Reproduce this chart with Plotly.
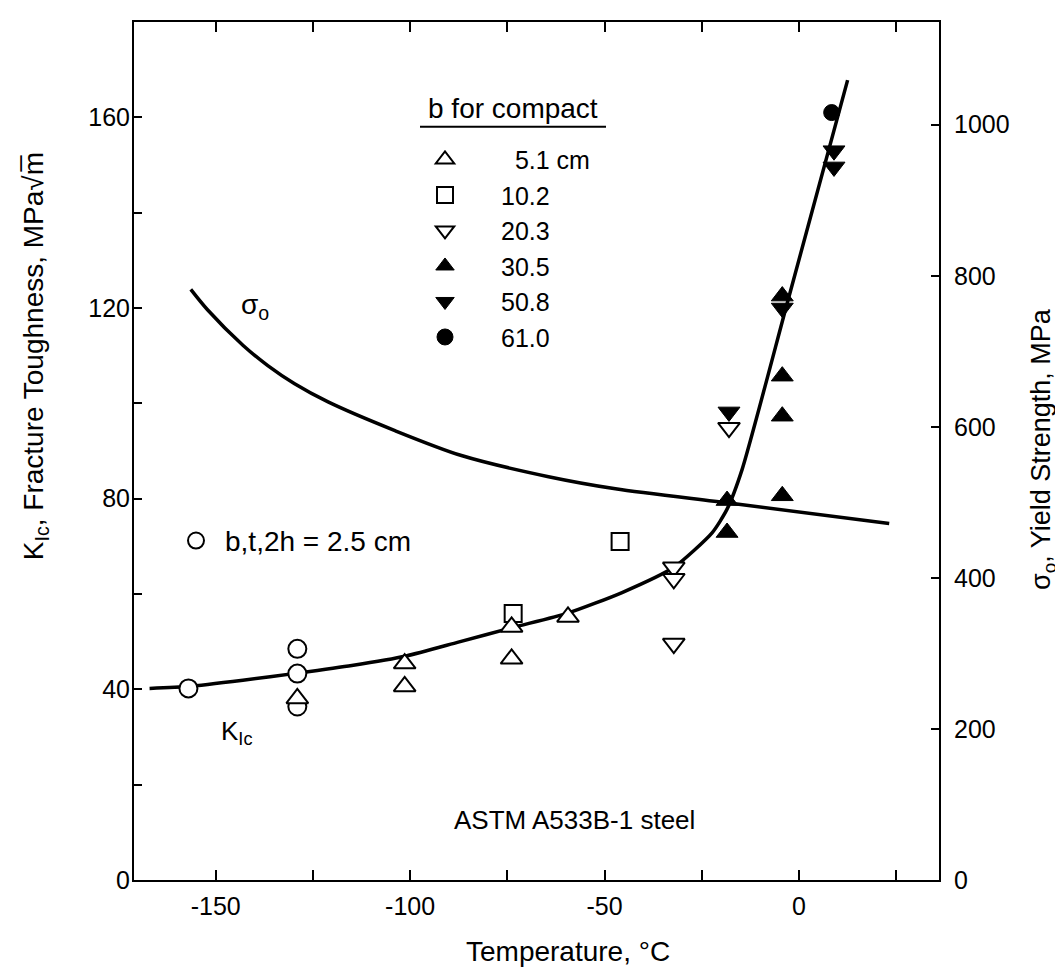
import plotly.graph_objects as go

# ---------------- data ----------------
# K_Ic fitted curve (left axis, MPa*sqrt(m))
kic_curve_T = [-167, -157, -143, -129, -115, -101, -87.6, -73.5, -59.4, -45.5, -32.2, -22.3, -18.5, -14.6, -3.0, 12.5]
kic_curve_K = [40.2, 40.6, 41.9, 43.4, 45.0, 47.0, 49.9, 53.0, 56.0, 60.3, 65.6, 72.9, 77.8, 86.2, 121.1, 167.8]

# Yield strength curve (right axis, MPa)
sy_curve_T = [-156.4, -152.1, -143.0, -136.6, -129.7, -121.1, -103.9, -86.8, -64.4, -47.2, -18.0, 23.2]
sy_curve_S = [782, 755, 708, 681, 657, 633, 595, 562, 534, 518, 499, 472]

# b,t,2h = 2.5 cm specimens (open circles)
c25_T = [-157, -129, -129, -129]
c25_K = [40.2, 48.5, 43.3, 36.4]

# compact specimens, by b
b51_T = [-129, -101.4, -101.4, -73.9, -73.9, -59.4]
b51_K = [38.1, 45.4, 40.6, 53.1, 46.4, 55.2]
b102_T = [-73.5, -46]
b102_K = [55.9, 71.0]
b203_T = [-32.2, -32.2, -32.2, -18]
b203_K = [65.6, 63.2, 49.6, 94.9]
b305_T = [-18.5, -18.5, -4.3, -4.3, -4.3, -4.3]
b305_K = [79.6, 72.9, 80.6, 97.3, 105.7, 122.5]
b508_T = [-18, -4.3, 9, 9]
b508_K = [98.2, 120.0, 153.0, 149.6]
b610_T = [8.4]
b610_K = [161.0]

legend_names = ["\u20075.1 cm", "10.2", "20.3", "30.5", "50.8", "61.0"]

x_tickvals = [-150, -125, -100, -75, -50, -25, 0, 25]
x_ticktext = ["-150", "", "-100", "", "-50", "", "0", ""]
yl_tickvals = [0, 20, 40, 60, 80, 100, 120, 140, 160]
yl_ticktext = ["0", "", "40", "", "80", "", "120", "", "160"]
yr_tickvals = [0, 200, 400, 600, 800, 1000]
yr_ticktext = ["0", "200", "400", "600", "800", "1000"]

FONT = "Liberation Sans, Arial, Helvetica, sans-serif"
BLACK = "black"

fig = go.Figure()

# curves
fig.add_trace(go.Scatter(x=kic_curve_T, y=kic_curve_K, mode="lines",
                         line=dict(color=BLACK, width=3.5, shape="spline", smoothing=0.6),
                         showlegend=False, hoverinfo="skip"))
fig.add_trace(go.Scatter(x=sy_curve_T, y=sy_curve_S, mode="lines", yaxis="y2",
                         line=dict(color=BLACK, width=3.5, shape="spline", smoothing=0.8),
                         showlegend=False, hoverinfo="skip"))

def open_marker(symbol, size):
    return dict(symbol=symbol, size=size, color="white", line=dict(color=BLACK, width=2))

def filled_marker(symbol, size):
    return dict(symbol=symbol, size=size, color=BLACK, line=dict(color=BLACK, width=1))

fig.add_trace(go.Scatter(x=c25_T, y=c25_K, mode="markers", name="b,t,2h = 2.5 cm",
                         marker=open_marker("circle", 18), legend="legend2"))
fig.add_trace(go.Scatter(x=b102_T, y=b102_K, mode="markers", name=legend_names[1],
                         marker=open_marker("square", 17), legendrank=2))
fig.add_trace(go.Scatter(x=b51_T, y=b51_K, mode="markers", name=legend_names[0],
                         marker=open_marker("triangle-up", 19), legendrank=1))
fig.add_trace(go.Scatter(x=b203_T, y=b203_K, mode="markers", name=legend_names[2],
                         marker=open_marker("triangle-down", 19), legendrank=3))
fig.add_trace(go.Scatter(x=b305_T, y=b305_K, mode="markers", name=legend_names[3],
                         marker=filled_marker("triangle-up", 19), legendrank=4))
fig.add_trace(go.Scatter(x=b508_T, y=b508_K, mode="markers", name=legend_names[4],
                         marker=filled_marker("triangle-down", 19), legendrank=5))
fig.add_trace(go.Scatter(x=b610_T, y=b610_K, mode="markers", name=legend_names[5],
                         marker=filled_marker("circle", 16), legendrank=6))

# plot area in pixels: x 126..931, y 12..872
L, R, T, B = 126, 132, 12, 99
W, H = 1063, 971
PW, PH = W - L - R, H - T - B

def px(xpix):
    return (xpix - L) / PW

def py(ypix):
    return (H - B - ypix) / PH

axis_common = dict(showgrid=False, zeroline=False, showline=True, linecolor=BLACK, linewidth=2,
                   ticks="inside", tickcolor=BLACK, tickwidth=2,
                   tickfont=dict(family=FONT, size=25, color=BLACK))

fig.update_layout(
    width=W, height=H,
    margin=dict(l=L, r=R, t=T, b=B),
    paper_bgcolor="white", plot_bgcolor="white",
    font=dict(family=FONT, color=BLACK),
    xaxis=dict(range=[-171, 36], tickmode="array", tickvals=x_tickvals, ticktext=x_ticktext,
               ticklen=10, mirror="ticks", ticklabelstandoff=3, **axis_common),
    yaxis=dict(range=[0, 180], tickmode="array", tickvals=yl_tickvals, ticktext=yl_ticktext,
               ticklen=8, ticklabelstandoff=-3, **axis_common),
    yaxis2=dict(range=[0, 1136], overlaying="y", side="right", tickmode="array",
                tickvals=yr_tickvals, ticktext=yr_ticktext, ticklen=8, ticklabelstandoff=8,
                **axis_common),
    legend=dict(x=px(381), xanchor="left", y=py(127), yanchor="top", itemwidth=102,
                bgcolor="rgba(0,0,0,0)", font=dict(family=FONT, size=25, color=BLACK),
                tracegroupgap=0),
    legend2=dict(x=px(159), xanchor="left", y=py(507), yanchor="top", itemwidth=48,
                 bgcolor="rgba(0,0,0,0)", font=dict(family=FONT, size=28, color=BLACK)),
    showlegend=True,
)

def label(text, xp, yp, size, angle=0):
    fig.add_annotation(text=text, x=px(xp), y=py(yp), xref="paper", yref="paper",
                       xanchor="center", yanchor="middle", textangle=angle, showarrow=False,
                       font=dict(family=FONT, size=size, color=BLACK))

label("b for compact", 505, 99, 28)
fig.add_shape(type="line", xref="paper", yref="paper", x0=px(412), x1=px(598), y0=py(117), y1=py(117),
              line=dict(color=BLACK, width=2))
label("ASTM A533B-1 steel", 566, 812, 26)
label("K<sub>Ic</sub>", 229, 724, 26)
label("σ<sub>o</sub>", 247, 297, 28)
label("Temperature, °C", 560, 944, 28)
label("K<sub>Ic</sub>, Fracture Toughness, MPa√m\u0305", 27, 347, 28, -90)
label("σ<sub>o</sub>, Yield Strength, MPa", 1035, 440, 27, -90)

fig.write_html("out.html")
